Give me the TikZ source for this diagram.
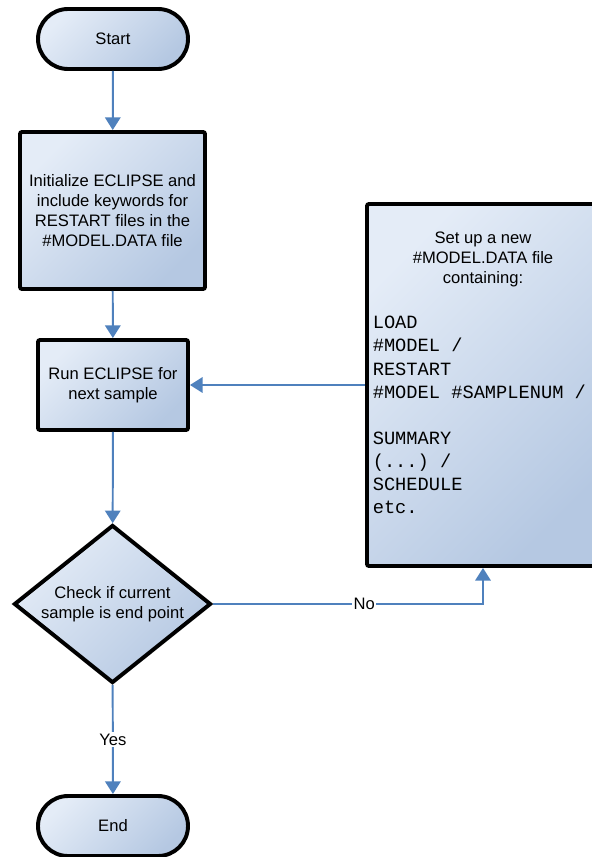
\documentclass[tikz,border=0pt]{standalone}
\usepackage{fontspec}
\setmainfont{Liberation Sans}
\setmonofont{Liberation Mono}
\usepackage{tikz}
\usetikzlibrary{arrows.meta,positioning,shapes.geometric}
\definecolor{fcBlue}  {RGB}{ 79,129,189}
\definecolor{fcFillL} {RGB}{228,236,247}
\definecolor{fcFillD} {RGB}{181,200,226}
\begin{document}
\begin{tikzpicture}[
  every node/.style={font=\fontsize{11.8}{14.2}\selectfont},
  >={Triangle[length=9pt,width=11pt]},
  fcshape/.style={draw=black,line width=2.8pt,top color=fcFillL,
               bottom color=fcFillD,shading angle=45},
  term/.style={fcshape,rounded corners=0.75cm,
               minimum width=3.75cm,minimum height=1.5cm},
  proc/.style={fcshape,rounded corners=1.5pt,align=center},
  dec/.style ={fcshape,diamond,shape aspect=1.25,inner sep=0pt,
               minimum width=4.925cm,minimum height=3.95cm,align=center},
  code/.style={font=\fontsize{13.3}{16.4}\selectfont\ttfamily,
               align=left,inner sep=0pt},
  flow/.style={->,draw=fcBlue,line width=1.4pt},
  lbl/.style ={fill=white,inner sep=1pt}
]
\useasboundingbox (0,0) rectangle (14.775,-21.425);
\node[term] (S) at (2.825,-0.975) {Start};
\node[proc,minimum width=4.625cm,minimum height=3.925cm] (INIT) at (2.8125,-5.2625)
  {Initialize ECLIPSE and\\include keywords for\\RESTART files in the\\\#MODEL.DATA file};
\node[proc,minimum width=3.75cm,minimum height=2.25cm] (RUN) at (2.825,-9.625)
  {Run ECLIPSE for\\next sample};
\node[dec] (CHK) at (2.8125,-15.1) {Check if current\\sample is end point};
\node[term] (E) at (2.825,-20.65) {End};
\node[proc,minimum width=5.8cm,minimum height=9.05cm] (SET) at (12.075,-9.625) {};
\node[align=center] (SETH) at (12.075,-6.49)
  {Set up a new\\\#MODEL.DATA file\\containing:};
\node[code,anchor=west] (SETL) at (9.3125,-10.375)
  {LOAD\\\#MODEL /\\RESTART\\\#MODEL \#SAMPLENUM /\\[16.4pt]SUMMARY\\(...) /\\SCHEDULE\\etc.};

\foreach \a/\b in {S/INIT,INIT/RUN,RUN/CHK} \draw[flow] (\a) -- (\b);
\draw[flow] (CHK) -- node[lbl] {Yes} (E);
\draw[flow] (CHK.east) -| node[lbl,pos=0.28] {No} (SET.south);
\draw[flow] (SET) -- (RUN);
\end{tikzpicture}
\end{document}
